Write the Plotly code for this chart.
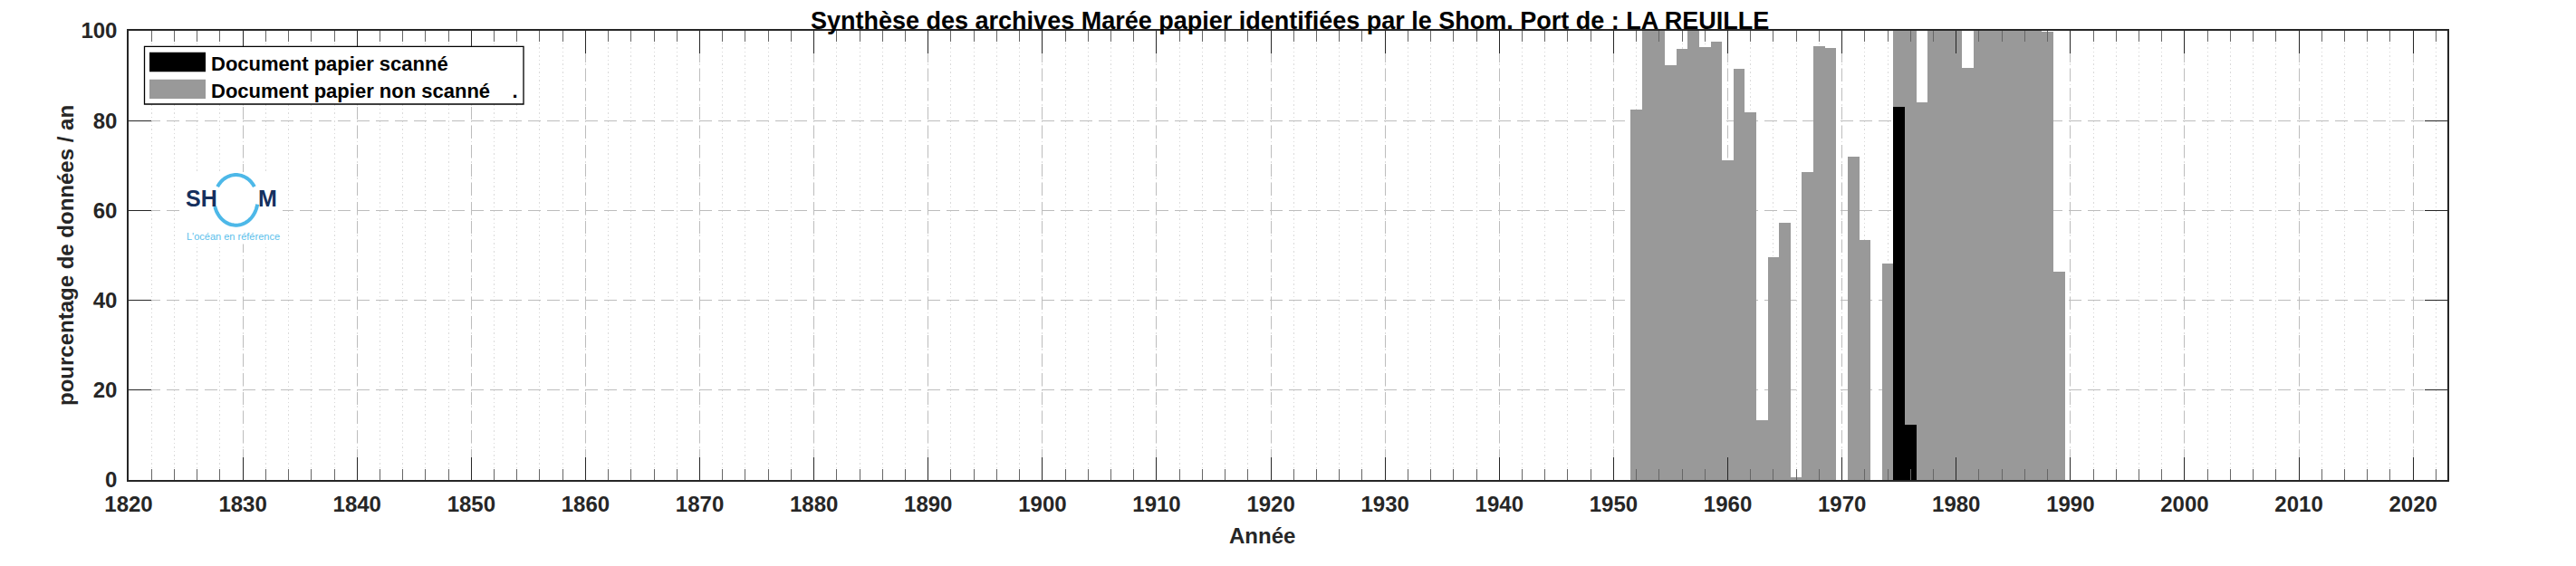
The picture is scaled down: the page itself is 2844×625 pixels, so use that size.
import plotly.graph_objects as go
import math

# ---------------- data ----------------
years_non_scanne = list(range(1952, 1990))
pct_non_scanne = [82.5, 100, 100, 92.4, 96.0, 100, 96.3, 97.5, 71.2, 91.5,
                  81.9, 13.3, 49.6, 57.2, 0.7, 68.5, 96.5, 96.2, 0, 72.0,
                  53.4, 0, 48.1, 100, 100, 84.1, 100, 100, 100, 91.8,
                  100, 100, 100, 100, 100, 100, 99.7, 46.4]
years_scanne = [1975, 1976]
pct_scanne = [83.0, 12.4]

x_tickvals = list(range(1820, 2030, 10))
x_ticktext = [str(v) for v in x_tickvals]
y_tickvals = [0, 20, 40, 60, 80, 100]
y_ticktext = [str(v) for v in y_tickvals]

title_text = "Synthèse des archives Marée papier identifiées par le Shom. Port de : LA REUILLE"
legend_labels = ["Document papier scanné", "Document papier non scanné\u00a0\u00a0\u00a0\u00a0."]
xlabel = "Année"
ylabel = "pourcentage de données / an"

# ---------------- layout geometry ----------------
# The page body has an 8 px default margin: the figure is shrunk and shifted to compensate.
OFF = 8
PLOT_L, PLOT_R, PLOT_T, PLOT_B = 142, 2702, 31, 530   # plot area in page pixels
W, H = 2844 - OFF, 625 - OFF
L = PLOT_L - OFF
T = PLOT_T - OFF
R = W - (PLOT_R - OFF)
B = H - (PLOT_B - OFF)
PW = PLOT_R - PLOT_L
PH = PLOT_B - PLOT_T
FONT = "Liberation Sans"
TXT = "#262626"


def px(x):
    return (x - PLOT_L) / PW


def py(y):
    return (PLOT_B - y) / PH


fig = go.Figure()
fig.add_trace(go.Bar(x=years_non_scanne, y=pct_non_scanne, width=1,
                     marker=dict(color="#999999", line=dict(width=0)),
                     showlegend=False, name=legend_labels[1]))
fig.add_trace(go.Bar(x=years_scanne, y=pct_scanne, width=1,
                     marker=dict(color="#000000", line=dict(width=0)),
                     showlegend=False, name=legend_labels[0]))

shapes = []
annotations = []

# legend box
shapes.append(dict(type="rect", xref="paper", yref="paper",
                   x0=px(159.5), x1=px(578), y0=py(112.5), y1=py(48.5),
                   fillcolor="white", line=dict(color="#000000", width=1.3), layer="above"))
shapes.append(dict(type="rect", xref="paper", yref="paper",
                   x0=px(165), x1=px(227), y0=py(76.5), y1=py(55),
                   fillcolor="#000000", line=dict(width=0), layer="above"))
shapes.append(dict(type="rect", xref="paper", yref="paper",
                   x0=px(165), x1=px(227), y0=py(106.5), y1=py(85),
                   fillcolor="#999999", line=dict(width=0), layer="above"))
for lab, yc in zip(legend_labels, [67.5, 97.5]):
    annotations.append(dict(text=lab, xref="paper", yref="paper",
                            x=px(231), y=py(yc), xanchor="left", yanchor="middle",
                            showarrow=False,
                            font=dict(family=FONT, size=22, color="#000000", weight="bold")))

# logo (white backdrop, ring, letters, tagline)
shapes.append(dict(type="rect", xref="paper", yref="paper",
                   x0=px(200), x1=px(312), y0=py(268), y1=py(188),
                   fillcolor="white", line=dict(width=0), layer="above"))
cx, cy, rx, ry = 260.5, 219, 24, 28


def arc_path(a0, a1, n=40):
    pts = []
    for k in range(n + 1):
        a = math.radians(a0 + (a1 - a0) * k / n)
        xx = cx + rx * math.cos(a)
        yy = cy - ry * math.sin(a)
        pts.append(f"{px(xx):.6f},{py(yy):.6f}")
    return "M " + " L ".join(pts)


for a0, a1 in [(148, 32), (195, 350)]:
    shapes.append(dict(type="path", xref="paper", yref="paper", path=arc_path(a0, a1),
                       line=dict(color="#4db8e8", width=4), layer="above"))
annotations.append(dict(text="SH", xref="paper", yref="paper", x=px(222), y=py(217.5),
                        xanchor="center", yanchor="middle", showarrow=False,
                        font=dict(family=FONT, size=25, color="#15305e", weight="bold")))
annotations.append(dict(text="M", xref="paper", yref="paper", x=px(295), y=py(217.5),
                        xanchor="center", yanchor="middle", showarrow=False,
                        font=dict(family=FONT, size=25, color="#15305e", weight="bold")))
annotations.append(dict(text="L'océan en référence", xref="paper", yref="paper",
                        x=px(257), y=py(259), xanchor="center", yanchor="middle",
                        showarrow=False,
                        font=dict(family=FONT, size=11, color="#5bc0eb")))

# title and axis titles
annotations.append(dict(text=title_text, xref="paper", yref="paper", x=px(1424), y=py(19.5),
                        xanchor="center", yanchor="middle", showarrow=False,
                        font=dict(family=FONT, size=27, color="#000000", weight="bold")))
annotations.append(dict(text=xlabel, xref="paper", yref="paper", x=px(1393), y=py(592),
                        xanchor="center", yanchor="middle", showarrow=False,
                        font=dict(family=FONT, size=24, color=TXT, weight="bold")))
annotations.append(dict(text=ylabel, xref="paper", yref="paper", x=px(72), y=0.5,
                        xanchor="center", yanchor="middle", showarrow=False, textangle=-90,
                        font=dict(family=FONT, size=24, color=TXT, weight="bold")))

fig.update_layout(
    width=W, height=H,
    margin=dict(l=L, r=R, t=T, b=B, pad=0),
    paper_bgcolor="white", plot_bgcolor="white",
    barmode="overlay", bargap=0,
    showlegend=False,
    shapes=shapes, annotations=annotations,
)

fig.update_xaxes(
    range=[1820, 2023], tickmode="array", tickvals=x_tickvals, ticktext=x_ticktext,
    ticks="inside", ticklen=25, tickwidth=1.2, tickcolor=TXT,
    showline=True, linecolor=TXT, linewidth=1.5, mirror="allticks",
    showgrid=True, gridcolor="#bdbdbd", gridwidth=1, griddash="14px,7px",
    tickfont=dict(family=FONT, size=24, color=TXT, weight="bold"),
    ticklabelstandoff=4,
    minor=dict(dtick=2, tick0=1820, ticks="inside", ticklen=12, tickwidth=1.2, tickcolor="#666666",
               showgrid=True, gridcolor="#dadada", gridwidth=1, griddash="1.5px,3px"),
    zeroline=False, fixedrange=True,
)
fig.update_yaxes(
    range=[0, 100], tickmode="array", tickvals=y_tickvals, ticktext=y_ticktext,
    ticks="inside", ticklen=25, tickwidth=1.2, tickcolor=TXT,
    showline=True, linecolor=TXT, linewidth=1.5, mirror="allticks",
    showgrid=True, gridcolor="#bdbdbd", gridwidth=1, griddash="14px,7px",
    tickfont=dict(family=FONT, size=24, color=TXT, weight="bold"),
    ticklabelstandoff=6,
    zeroline=False, fixedrange=True,
)

fig.write_html("out.html")
